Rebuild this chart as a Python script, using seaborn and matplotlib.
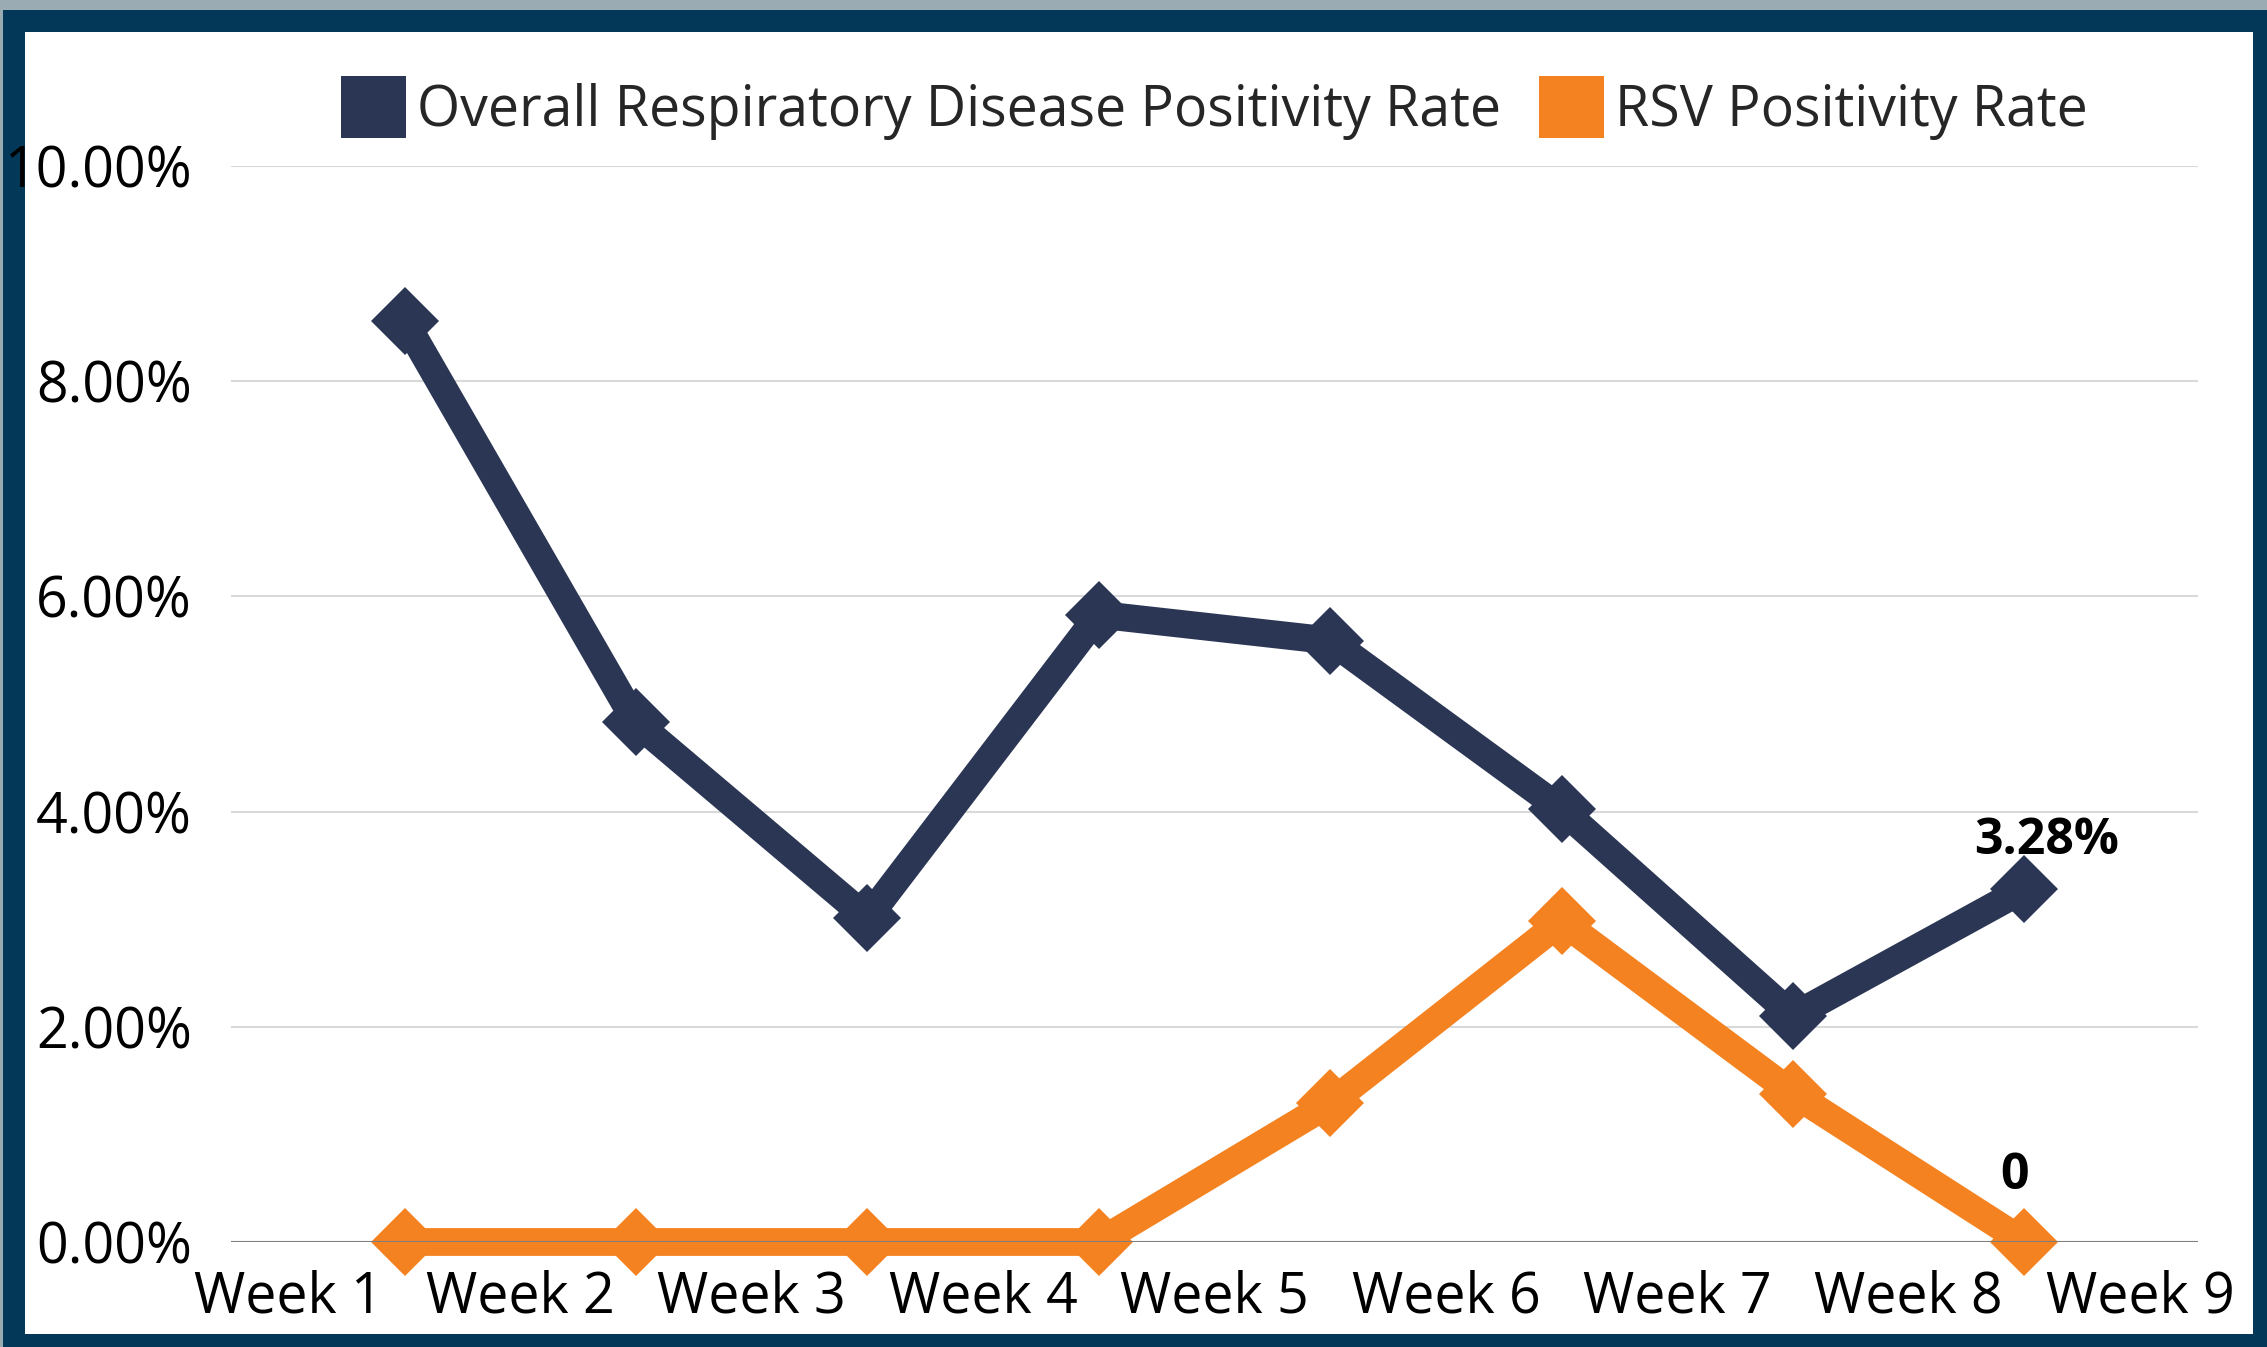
import matplotlib
matplotlib.use("Agg")
import matplotlib.pyplot as plt
from matplotlib.patches import Rectangle, Patch
import numpy as np
import pandas as pd
import seaborn as sns

# data (percent)
week_labels = ["Week 1", "Week 2", "Week 3", "Week 4", "Week 5",
               "Week 6", "Week 7", "Week 8", "Week 9"]
overall_rate = [8.56, 4.83, 3.01, 5.83, 5.59, 4.02, 2.10, 3.28]
rsv_rate = [0.0, 0.0, 0.0, 0.0, 1.29, 2.98, 1.38, 0.0]
series_names = ["Overall Respiratory Disease Positivity Rate", "RSV Positivity Rate"]
last_labels = ["3.28%", "0"]

navy = "#2b3654"
orange = "#f58220"
frame = "#033858"

sns.set_theme(style="white")
plt.rcParams['font.family'] = ['Open Sans', 'DejaVu Sans']

W, H = 2267, 1347
fig = plt.figure(figsize=(W / 100, H / 100), dpi=100, facecolor=frame)
# light strip on top / left edge, white card inside the frame
fig.patches.append(Rectangle((0, 1 - 10 / H), 1, 10 / H, transform=fig.transFigure,
                             facecolor="#9aabb4", edgecolor="none", zorder=-3))
fig.patches.append(Rectangle((0, 0), 3 / W, 1, transform=fig.transFigure,
                             facecolor="#9aabb4", edgecolor="none", zorder=-3))
fig.patches.append(Rectangle((25 / W, (H - 1334) / H), (2253 - 25) / W, (1334 - 32) / H,
                             transform=fig.transFigure, facecolor="white",
                             edgecolor="none", zorder=-2))

ax = fig.add_axes([231 / W, (H - 1242) / H, (2198 - 231) / W, (1242 - 166) / H])
ax.set_facecolor("none")

df = pd.DataFrame({"pos": np.arange(1, len(overall_rate) + 1),
                   "overall": overall_rate, "rsv": rsv_rate})

sns.lineplot(data=df, x="pos", y="overall", ax=ax, color=navy, linewidth=20,
             marker="D", markersize=35, markeredgewidth=0, zorder=3, clip_on=False)
sns.lineplot(data=df, x="pos", y="rsv", ax=ax, color=orange, linewidth=20,
             marker="D", markersize=35, markeredgewidth=0, zorder=4, clip_on=False)

ax.set_xlim(0.25, len(overall_rate) + 0.75)
ax.set_ylim(0, 10)
ax.set_yticks(np.arange(0, 10.1, 2))
ax.set_yticklabels([f"{v:.2f}%" for v in np.arange(0, 10.1, 2)])
ax.set_xticks(np.arange(len(week_labels)) + 0.5)
ax.set_xticklabels(week_labels)
ax.tick_params(axis="both", length=0, labelsize=40, colors="black")
ax.tick_params(axis="y", pad=28)
ax.tick_params(axis="x", pad=20)
ax.set_xlabel("")
ax.set_ylabel("")

ax.grid(axis="y", color="#d9d9d9", linewidth=1.5)
ax.set_axisbelow(True)
ax.axhline(0, color="#7f7f7f", linewidth=1.5, zorder=5)
for s in ax.spines.values():
    s.set_visible(False)

# data labels for the last week
ax.annotate(last_labels[0], (df["pos"].iloc[-1], overall_rate[-1]), xytext=(16, 25),
            textcoords="offset points", ha="center", va="baseline",
            fontsize=36, fontweight="bold", color="black", zorder=6)
ax.annotate(last_labels[1], (df["pos"].iloc[-1], rsv_rate[-1]), xytext=(-7, 38),
            textcoords="offset points", ha="center", va="baseline",
            fontsize=36, fontweight="bold", color="black", zorder=6)

handles = [Patch(facecolor=navy, edgecolor="none"), Patch(facecolor=orange, edgecolor="none")]
ax.legend(handles, series_names, loc="center", bbox_to_anchor=(0.5, 1.054),
          ncol=2, frameon=False, fontsize=40, handlelength=1.17, handleheight=1.34,
          handletextpad=0.2, columnspacing=0.68, borderaxespad=0, borderpad=0)

fig.savefig("out.png", dpi=100, facecolor=frame)
